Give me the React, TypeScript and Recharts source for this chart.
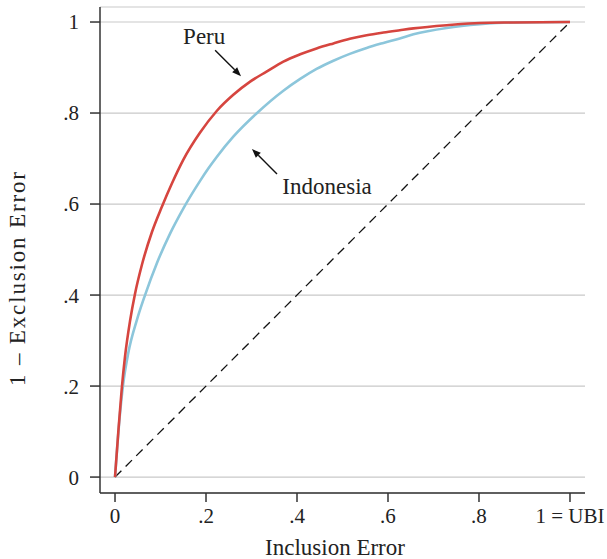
import React from 'react';
import { LineChart, Line, XAxis, YAxis, CartesianGrid, ReferenceLine, ReferenceDot } from 'recharts';

const xTicks = [0, 0.2, 0.4, 0.6, 0.8, 1];
const yTicks = [0, 0.2, 0.4, 0.6, 0.8, 1];

const peruX = [0, 0.0073, 0.0147, 0.022, 0.033, 0.044, 0.059, 0.081, 0.103, 0.125, 0.15, 0.187, 0.224, 0.26, 0.297, 0.333, 0.37, 0.407, 0.443, 0.48, 0.516, 0.553, 0.59, 0.626, 0.656, 0.729, 0.802, 0.875, 1];
const peruY = [0, 0.1, 0.193, 0.265, 0.343, 0.403, 0.466, 0.538, 0.594, 0.645, 0.697, 0.757, 0.805, 0.84, 0.869, 0.891, 0.913, 0.929, 0.942, 0.953, 0.963, 0.971, 0.977, 0.982, 0.986, 0.993, 0.998, 0.999, 1];

const indoX = [0, 0.011, 0.018, 0.029, 0.048, 0.066, 0.092, 0.121, 0.15, 0.187, 0.205, 0.224, 0.26, 0.311, 0.37, 0.407, 0.443, 0.48, 0.516, 0.553, 0.59, 0.626, 0.656, 0.729, 0.802, 0.875, 1];
const indoY = [0, 0.14, 0.205, 0.272, 0.345, 0.4, 0.47, 0.535, 0.59, 0.651, 0.678, 0.704, 0.748, 0.799, 0.849, 0.875, 0.897, 0.915, 0.93, 0.943, 0.954, 0.964, 0.973, 0.987, 0.995, 0.999, 1];

const diagonal = [{ x: 0, y: 0 }, { x: 1, y: 1 }];
const peruArrow = [{ x: 0.22, y: 0.938 }, { x: 0.277, y: 0.881 }];
const indoArrow = [{ x: 0.356, y: 0.666 }, { x: 0.301, y: 0.721 }];
const peruLabel = { x: 0.196, y: 0.969, text: 'Peru' };
const indoLabel = { x: 0.466, y: 0.64, text: 'Indonesia' };

const peruData = peruX.map((x, i) => ({ x, y: peruY[i] }));
const indoData = indoX.map((x, i) => ({ x, y: indoY[i] }));

const FONT = 'Liberation Serif';
const tickStyle = { fontFamily: FONT, fontSize: 21, fill: '#222' };

const fmt = (v: number) => (v === 0 ? '0' : v === 1 ? '1' : String(v).replace('0.', '.'));
const fmtX = (v: number) => (v === 1 ? '1 = UBI' : fmt(v));

const Arrow = (props: any) => {
  const { x1, y1, x2, y2 } = props;
  const ang = Math.atan2(y2 - y1, x2 - x1);
  const L = 9;
  const W = 3.5;
  const bx = x2 - L * Math.cos(ang);
  const by = y2 - L * Math.sin(ang);
  const px = -Math.sin(ang) * W;
  const py = Math.cos(ang) * W;
  return (
    <g>
      <line x1={x1} y1={y1} x2={bx} y2={by} stroke="#111" strokeWidth={1.4} />
      <polygon points={`${x2},${y2} ${bx + px},${by + py} ${bx - px},${by - py}`} fill="#111" />
    </g>
  );
};

const XTitle = () => (
  <text x={335} y={547} textAnchor="middle" dominantBaseline="central" fontFamily={FONT} fontSize={23} fill="#222">
    Inclusion Error
  </text>
);

const YTitle = () => (
  <text x={17} y={279} textAnchor="middle" dominantBaseline="central" transform="rotate(-90 17 279)" fontFamily={FONT} fontSize={23} fill="#222" textLength={214} lengthAdjust="spacing">
    1 – Exclusion Error
  </text>
);

export default function App() {
  return (
    <div style={{ position: 'absolute', left: 0, top: 0, width: 607, height: 559, background: '#fff' }}>
      <LineChart width={607} height={559} margin={{ top: 7, right: 22, bottom: 0, left: 0 }}>
        <CartesianGrid vertical={false} stroke="#c9c9c9" strokeWidth={1.2} />
        <XAxis
          dataKey="x"
          type="number"
          domain={[-0.033, 1.033]}
          ticks={xTicks}
          tickFormatter={fmtX}
          tickSize={9}
          tickMargin={6}
          height={66}
          tick={tickStyle}
          axisLine={{ stroke: '#333', strokeWidth: 1.5 }}
          tickLine={{ stroke: '#333', strokeWidth: 1.5 }}
          allowDataOverflow
          interval={0}
          label={XTitle}
        />
        <YAxis
          dataKey="y"
          type="number"
          domain={[-0.035, 1.033]}
          ticks={yTicks}
          tickFormatter={fmt}
          tickSize={10}
          tickMargin={11}
          width={100}
          tick={tickStyle}
          axisLine={{ stroke: '#333', strokeWidth: 1.5 }}
          tickLine={{ stroke: '#333', strokeWidth: 1.5 }}
          allowDataOverflow
          interval={0}
          label={YTitle}
        />
        <ReferenceLine segment={diagonal} stroke="#111" strokeWidth={1.3} strokeDasharray="9 6" />
        <Line data={indoData} dataKey="y" type="monotone" stroke="#8cc6db" strokeWidth={2.6} dot={false} isAnimationActive={false} />
        <Line data={peruData} dataKey="y" type="monotone" stroke="#d6453f" strokeWidth={2.6} dot={false} isAnimationActive={false} />
        <ReferenceLine segment={peruArrow} shape={Arrow} />
        <ReferenceLine segment={indoArrow} shape={Arrow} />
        <ReferenceDot x={peruLabel.x} y={peruLabel.y} r={1} fill="none" stroke="none"
          label={{ value: peruLabel.text, position: 'center', fontFamily: FONT, fontSize: 23, fill: '#222' }} />
        <ReferenceDot x={indoLabel.x} y={indoLabel.y} r={1} fill="none" stroke="none"
          label={{ value: indoLabel.text, position: 'center', fontFamily: FONT, fontSize: 23, fill: '#222' }} />
      </LineChart>
    </div>
  );
}
